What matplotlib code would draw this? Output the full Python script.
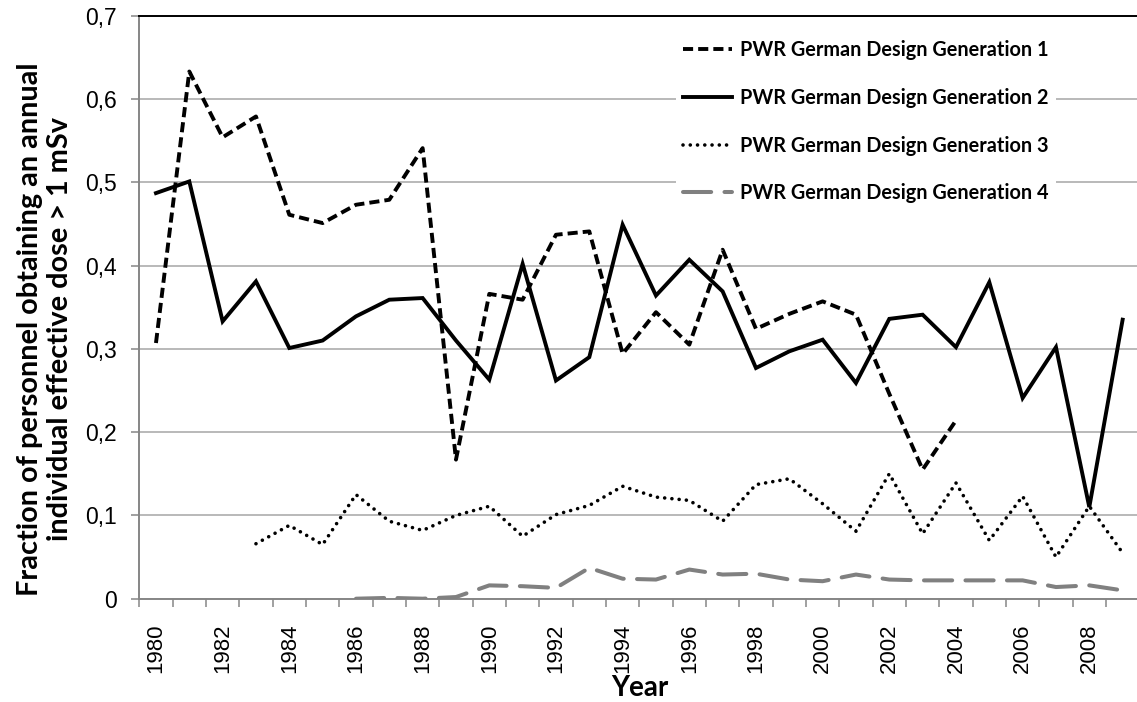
import matplotlib
matplotlib.use("Agg")
import matplotlib.pyplot as plt
import numpy as np

# Data
years = list(range(1980, 2010))

gen1 = [0.307, 0.633, 0.554, 0.579, 0.461, 0.451, 0.473, 0.479, 0.541, 0.167,
        0.366, 0.359, 0.437, 0.441, 0.294, 0.344, 0.305, 0.419, 0.324, 0.342,
        0.357, 0.341, 0.246, 0.155, 0.214, None, None, None, None, None]

gen2 = [0.487, 0.501, 0.333, 0.381, 0.301, 0.310, 0.339, 0.359, 0.361, 0.310,
        0.263, 0.402, 0.262, 0.290, 0.449, 0.364, 0.407, 0.369, 0.277, 0.297,
        0.311, 0.259, 0.336, 0.341, 0.302, 0.380, 0.241, 0.302, 0.110, 0.335]

gen3 = [None, None, None, 0.066, 0.088, 0.065, 0.125, 0.093, 0.082, 0.100,
        0.111, 0.075, 0.101, 0.112, 0.135, 0.122, 0.118, 0.093, 0.137, 0.144,
        0.114, 0.081, 0.150, 0.078, 0.139, 0.070, 0.123, 0.050, 0.111, 0.055]

gen4 = [None, None, None, None, None, None, 0.000, 0.001, 0.000, 0.002,
        0.016, 0.015, 0.013, 0.037, 0.024, 0.023, 0.035, 0.029, 0.030, 0.023,
        0.021, 0.029, 0.023, 0.022, 0.022, 0.022, 0.022, 0.014, 0.016, 0.010]

labels = ['PWR German Design Generation 1', 'PWR German Design Generation 2',
          'PWR German Design Generation 3', 'PWR German Design Generation 4']

yticks = [0, 0.1, 0.2, 0.3, 0.4, 0.5, 0.6, 0.7]
ytick_labels = ['0', '0,1', '0,2', '0,3', '0,4', '0,5', '0,6', '0,7']


def as_array(vals):
    return np.array([np.nan if v is None else v for v in vals], dtype=float)


W, H = 1137, 702
fig = plt.figure(figsize=(W / 100, H / 100), dpi=100)
# plot area in pixels: left 139, right 1139 (cropped by the image edge), top 16, bottom 599
ax = fig.add_axes([139.3 / W, (H - 598.7) / H, 1000 / W, 583 / H])

x = np.arange(len(years))
grey_axis = '#868686'

ax.plot(x, as_array(gen1), color='black', lw=2.8, linestyle=(0, (2.6, 1.3)),
        dash_capstyle='butt', label=labels[0], zorder=4)
ax.plot(x, as_array(gen2), color='black', lw=2.8, linestyle='-',
        solid_joinstyle='miter', label=labels[1], zorder=4)
ax.plot(x, as_array(gen3), color='black', lw=2.6, linestyle=(0, (0.01, 2.0)),
        dash_capstyle='round', label=labels[2], zorder=4)
ax.plot(x, as_array(gen4), color='#808080', lw=2.9, linestyle=(0, (7, 3.3)),
        dash_capstyle='round', label=labels[3], zorder=3)

ax.set_xlim(-0.5, len(years) - 0.5)
ax.set_ylim(0, 0.7)

# y axis
ax.set_yticks(yticks)
ax.set_yticklabels(ytick_labels, fontfamily='Liberation Sans', fontsize=16.5)
ax.tick_params(axis='y', length=6, width=1.1, color=grey_axis, pad=10)
ax.yaxis.grid(True, color='#a6a6a6', lw=1.1, zorder=0)
ax.set_axisbelow(True)

# x axis: labels under every second year, tick marks between categories
even = [i for i, yr in enumerate(years) if yr % 2 == 0]
ax.set_xticks(even)
ax.set_xticklabels([str(years[i]) for i in even], rotation=90,
                   fontfamily='Liberation Sans', fontsize=16)
ax.tick_params(axis='x', which='major', length=0, pad=18)
ax.set_xticks(np.arange(len(years) + 1) - 0.5, minor=True)
ax.tick_params(axis='x', which='minor', length=6, width=1.1, color=grey_axis)

for side in ['left', 'bottom']:
    ax.spines[side].set_color(grey_axis)
    ax.spines[side].set_linewidth(1.4)
ax.spines['top'].set_color('black')
ax.spines['top'].set_linewidth(1.4)
ax.spines['right'].set_visible(False)

# axis titles
fig.text(45 / W, 1 - 329 / H,
         'Fraction of personnel obtaining an annual\nindividual effective dose > 1 mSv',
         rotation=90, ha='center', va='center', multialignment='center',
         fontfamily='Lato', fontweight='bold', fontsize=20.8, linespacing=1.2)
fig.text(640 / W, 1 - 688 / H, 'Year', ha='center', va='center',
         fontfamily='Lato', fontweight='bold', fontsize=20)

leg = ax.legend(loc='upper left', bbox_to_anchor=(676 / W, 1 - 33 / H),
                bbox_transform=fig.transFigure, frameon=True, fancybox=False,
                facecolor='white', edgecolor='none', framealpha=1,
                prop={'family': 'Lato', 'weight': 'bold', 'size': 14.3},
                handlelength=2.47, handletextpad=0.4, labelspacing=1.4,
                borderpad=0.35, borderaxespad=0)
leg.set_zorder(5)

fig.savefig('out.png', dpi=100)
